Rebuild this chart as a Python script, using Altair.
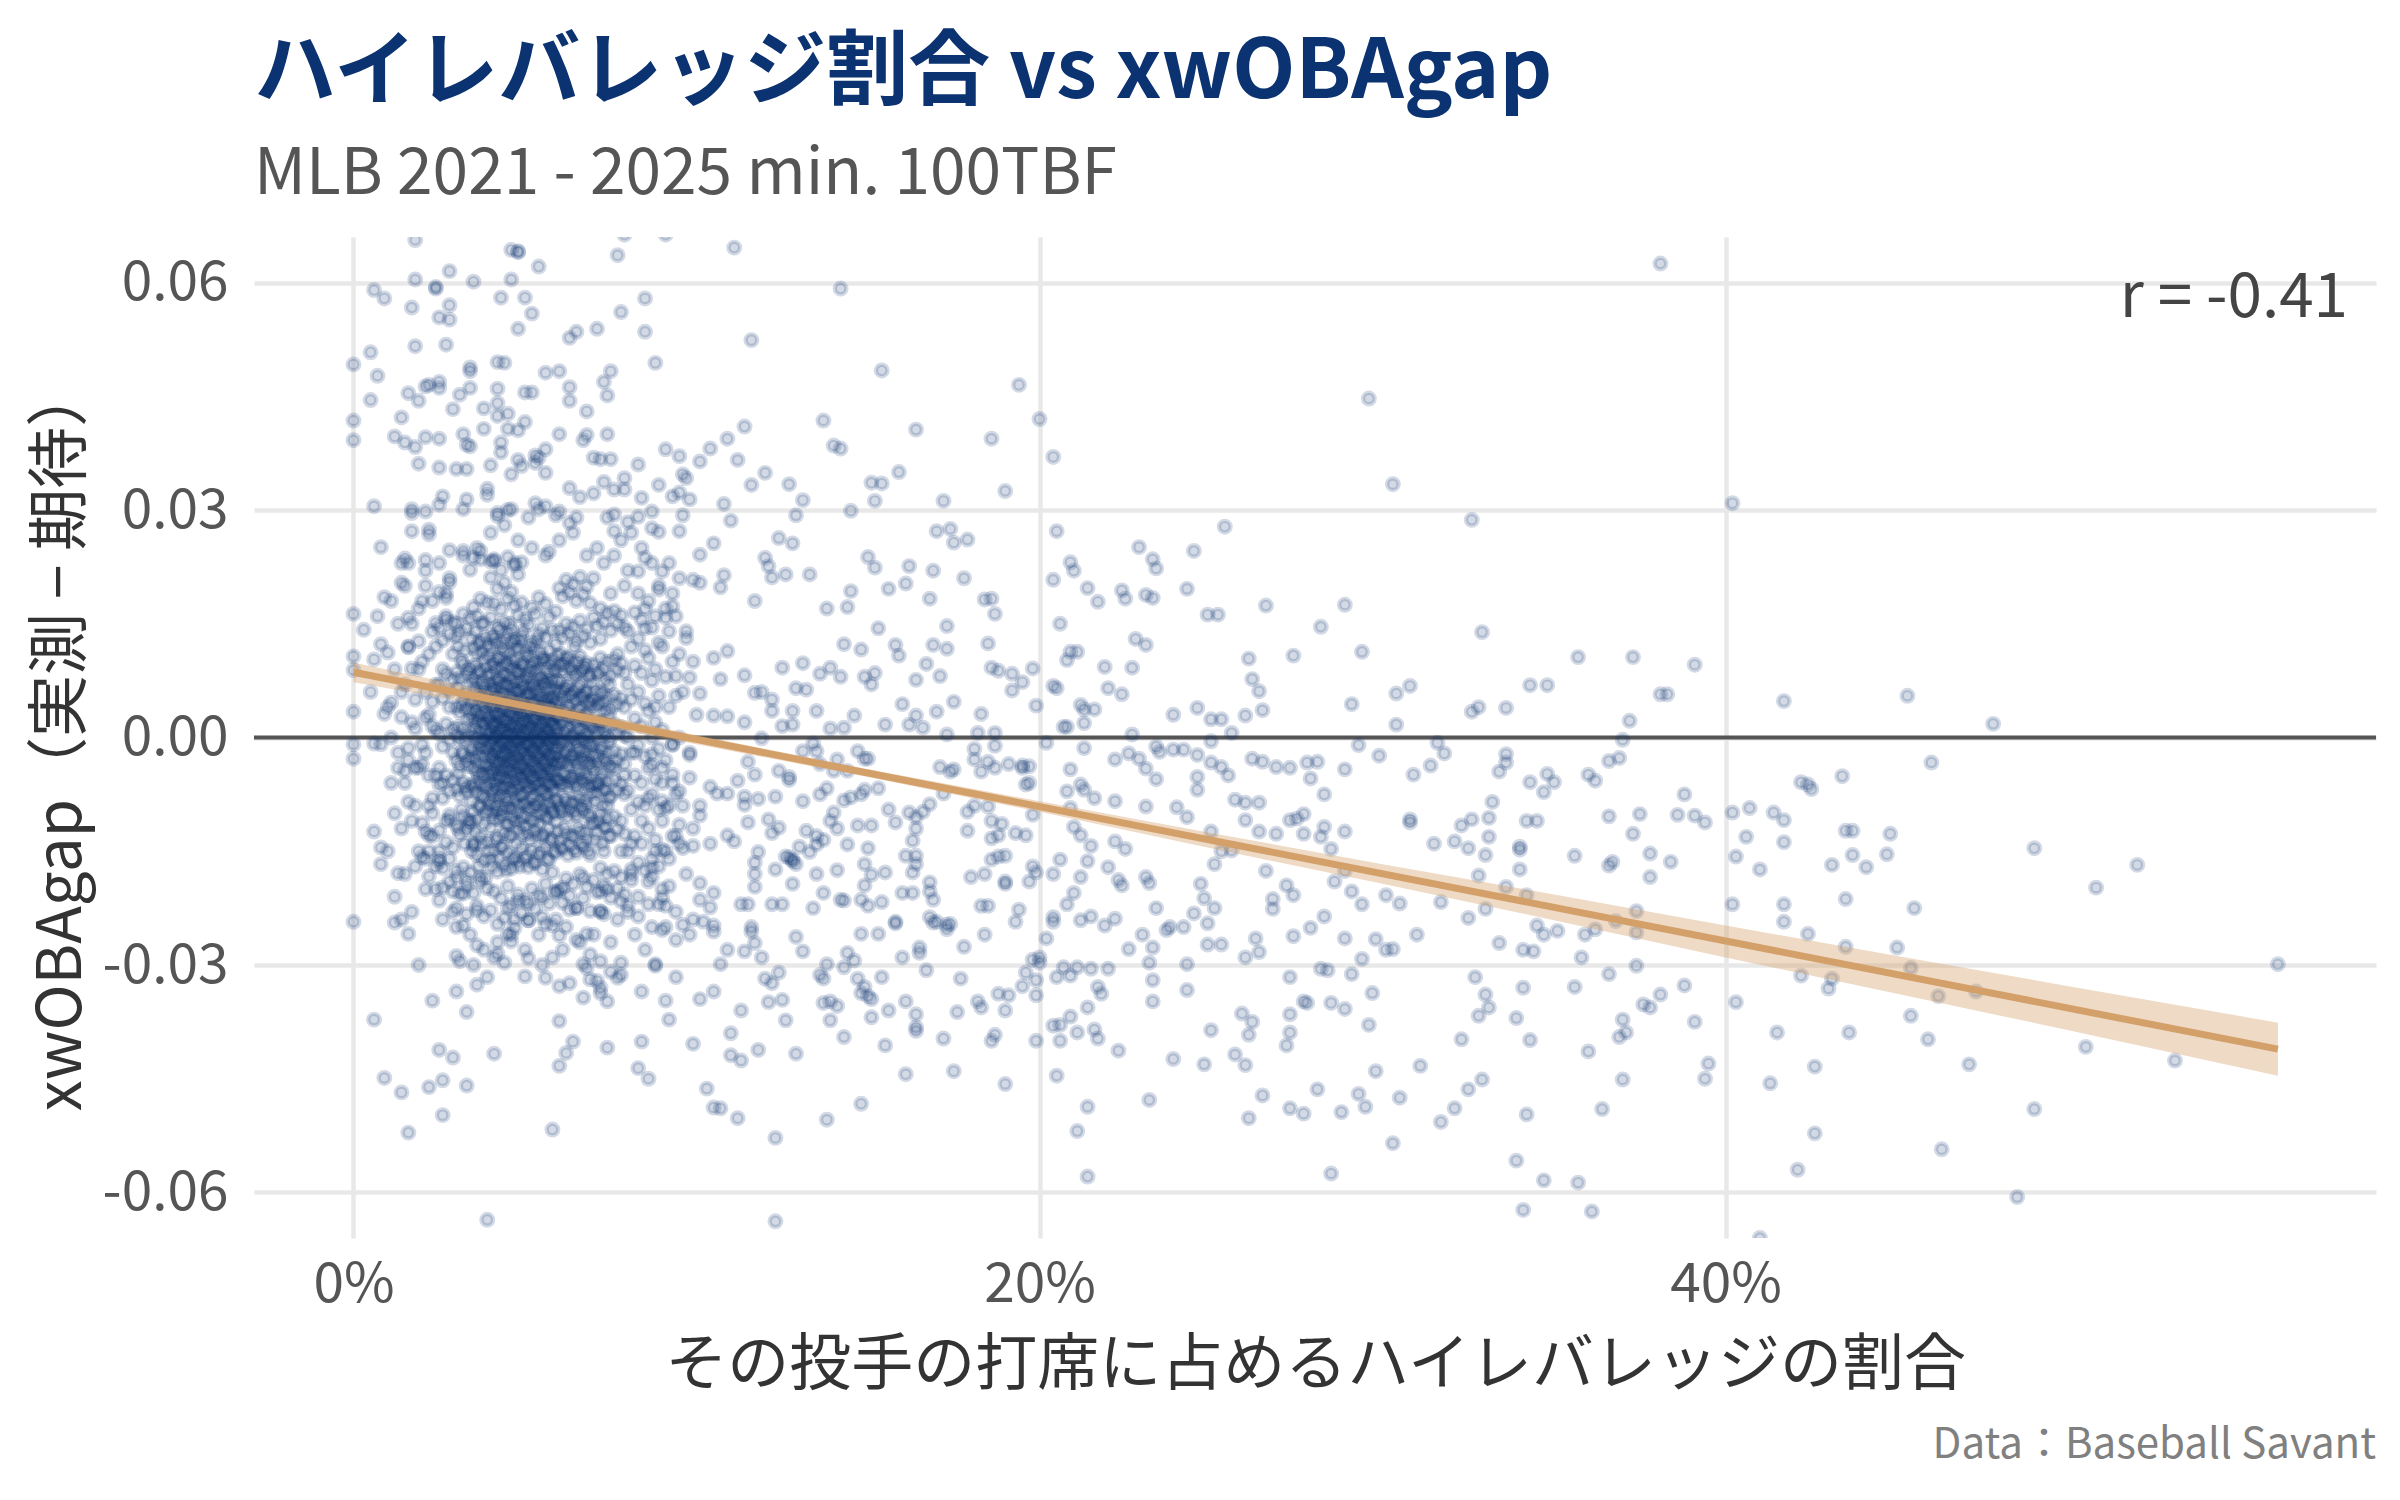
import altair as alt
import pandas as pd

FONT = "Noto Sans CJK JP"
NAVY = "#0B3271"
TAN = "#D4A06A"

TITLE = "ハイレバレッジ割合 vs xwOBAgap"
SUBTITLE = "MLB 2021 - 2025 min. 100TBF"
X_TITLE = "その投手の打席に占めるハイレバレッジの割合"
Y_TITLE = "xwOBAgap（実測 \u2212 期待）"
R_LABEL = "r = -0.41"
CAPTION = "Data：Baseball Savant"

X_TICKS = [0, 0.2, 0.4]
Y_TICKS = [-0.06, -0.03, 0.0, 0.03, 0.06]

# points: (share in 0.1 % units, gap in 0.0001 units)
pts_right = [(381,625),(303,334),(402,309),(326,287),(329,139),(357,106),(373,106),(391,96),(343,69),(348,69),(304,58),(308,68),(381,57),(383,57),(326,34),(328,40),(336,39),(304,17),(372,22),(417,48),(453,55),(478,18),(316,-7),(318,-21),(314,-37),(309,-49),(336,-22),(336,-33),(334,-45),(348,-48),(343,-59),(350,-59),(347,-72),(360,-49),(362,-57),(370,-3),(369,-27),(366,-31),(332,-85),(388,-75),(386,-102),(391,-103),(394,-112),(308,-108),(308,-112),(323,-116),(326,-108),(331,-106),(342,-110),(345,-110),(366,-104),(375,-101),(373,-127),(321,-137),(315,-140),(325,-146),(331,-131),(330,-155),(340,-144),(340,-148),(340,-174),(356,-156),(366,-169),(367,-164),(378,-153),(384,-164),(378,-184),(328,-182),(336,-197),(342,-208),(305,-219),(317,-217),(330,-226),(325,-238),(334,-271),(341,-280),(344,-282),(310,-260),(303,-279),(345,-248),(347,-260),(351,-255),(359,-260),(362,-253),(368,-242),(374,-229),(374,-257),(358,-290),(374,-301),(366,-312),(327,-316),(341,-330),(356,-329),(330,-339),(331,-356),(328,-367),(339,-370),(323,-398),(343,-399),(311,-433),(329,-451),(325,-464),(305,-475),(321,-489),(317,-507),(342,-497),(364,-490),(360,-414),(370,-372),(371,-389),(369,-395),(376,-352),(378,-356),(381,-339),(388,-327),(391,-375),(395,-430),(394,-450),(370,-451),(339,-558),(347,-584),(357,-587),(341,-623),(361,-625),(303,-535),(410,-660),(402,-99),(407,-93),(414,-99),(417,-109),(406,-131),(417,-138),(403,-157),(410,-174),(422,-59),(424,-62),(425,-68),(434,-51),(460,-33),(435,-123),(437,-123),(448,-127),(437,-155),(431,-168),(441,-171),(447,-154),(490,-146),(520,-168),(508,-198),(402,-220),(417,-220),(417,-243),(435,-213),(455,-225),(424,-259),(435,-276),(450,-277),(454,-304),(422,-314),(431,-318),(430,-331),(462,-341),(473,-335),(403,-349),(415,-389),(436,-389),(454,-367),(459,-398),(413,-456),(426,-434),(471,-431),(505,-408),(531,-426),(561,-299),(490,-490),(463,-543),(426,-522),(421,-570),(485,-606)]

pts_mid = [(111,646),(142,592),(116,524),(154,484),(194,465),(200,420),(296,447),(137,418),(114,410),(109,394),(104,381),(101,364),(112,366),(140,385),(142,381),(164,406),(186,394),(204,370),(120,349),(116,333),(127,334),(131,313),(151,336),(154,335),(152,312),(159,350),(172,312),(190,325),(108,308),(110,286),(129,293),(145,299),(105,256),(101,241),(124,263),(128,256),(120,237),(121,226),(122,211),(126,215),(133,215),(108,214),(107,198),(101,204),(117,180),(150,238),(152,224),(162,226),(169,220),(161,203),(156,196),(145,193),(144,172),(138,170),(170,272),(174,275),(175,257),(179,261),(178,210),(168,183),(184,182),(186,183),(187,163),(173,147),(153,144),(185,124),(205,272),(204,208),(209,231),(210,220),(214,197),(217,179),(224,194),(225,183),(229,251),(233,235),(234,223),(231,188),(233,184),(243,196),(245,246),(254,278),(249,162),(252,162),(266,174),(289,175),(282,146),(261,104),(274,108),(294,113),(262,77),(264,61),(265,36),(291,44),(206,150),(228,130),(231,122),(227,92),(219,93),(220,65),(224,57),(205,65),(204,68),(208,102),(209,113),(211,113),(212,43),(213,37),(216,37),(213,19),(207,14),(199,42),(198,91),(195,73),(192,84),(188,88),(186,92),(192,62),(183,31),(175,47),(171,81),(164,76),(167,97),(169,122),(173,117),(158,122),(159,108),(152,85),(149,80),(151,70),(148,116),(143,123),(139,92),(142,80),(136,84),(131,98),(125,92),(132,63),(129,65),(128,35),(135,35),(122,35),(122,50),(119,60),(117,59),(114,82),(109,114),(105,105),(101,58),(107,77),(105,29),(109,28),(114,20),(119,-1),(125,15),(128,17),(139,12),(143,13),(146,29),(155,17),(160,44),(162,17),(164,29),(166,13),(170,34),(173,4),(182,6),(187,6),(187,-11),(181,-15),(185,-32),(195,-37),(197,-60),(202,-7),(208,14),(213,-14),(209,-42),(212,-62),(213,-69),(208,-71),(209,-93),(216,-80),(222,-84),(227,4),(222,-29),(226,-21),(229,-28),(231,-41),(234,-12),(235,-19),(239,-16),(242,-16),(246,-23),(250,-5),(250,-33),(253,-39),(255,-50),(234,-55),(231,-91),(240,-92),(243,-105),(246,-69),(246,-52),(250,24),(260,29),(256,6),(253,24),(239,30),(246,39),(262,-28),(265,-32),(269,-39),(273,-40),(278,-33),(281,-32),(279,-54),(289,-42),(293,-10),(299,-24),(283,-75),(257,-82),(260,-86),(264,-86),(260,-109),(264,-124),(269,-127),(273,-109),(275,-107),(277,-101),(277,-127),(282,-131),(283,-118),(289,-124),(285,-147),(289,-176),(286,-190),(291,-203),(294,-220),(301,-208),(250,-124),(251,-167),(253,-150),(256,-149),(247,-193),(248,-212),(251,-225),(249,-245),(245,-232),(266,-176),(268,-213),(268,-226),(272,-195),(274,-208),(279,-251),(283,-236),(263,-265),(264,-283),(260,-290),(253,-273),(249,-273),(243,-299),(243,-333),(238,-250),(242,-250),(274,-262),(289,-265),(298,-266),(301,-280),(294,-292),(282,-305),(284,-307),(291,-312),(273,-316),(277,-348),(278,-350),(285,-350),(289,-358),(297,-337),(296,-379),(273,-365),(273,-389),(272,-406),(259,-364),(262,-375),(261,-392),(257,-418),(260,-432),(248,-431),(250,-386),(239,-424),(232,-478),(265,-472),(261,-502),(273,-489),(277,-496),(281,-464),(288,-494),(293,-470),(295,-487),(298,-440),(285,-575),(214,-579),(211,-519),(214,-487),(205,-446),(190,-457),(175,-440),(161,-444),(148,-483),(138,-504),(123,-528),(123,-638),(112,-502),(107,-489),(105,-488),(103,-463),(113,-426),(110,-419),(110,-390),(118,-412),(129,-417),(143,-395),(155,-406),(172,-397),(186,-400),(187,-392),(199,-400),(206,-400),(211,-389),(216,-385),(217,-397),(223,-413),(204,-380),(206,-379),(209,-368),(214,-356),(217,-329),(218,-338),(220,-305),(215,-305),(211,-303),(207,-303),(205,-316),(209,-314),(200,-290),(199,-340),(199,-320),(195,-328),(196,-310),(191,-340),(188,-338),(190,-360),(183,-356),(182,-348),(177,-318),(176,-362),(164,-387),(164,-382),(164,-365),(161,-348),(154,-316),(156,-360),(151,-369),(151,-345),(150,-341),(148,-337),(147,-318),(149,-329),(143,-303),(139,-348),(141,-354),(139,-373),(137,-350),(137,-318),(136,-313),(138,-299),(144,-284),(146,-294),(148,-259),(131,-282),(129,-263),(124,-310),(121,-349),(125,-346),(126,-373),(120,-318),(122,-324),(113,-360),(105,-335),(101,-345),(107,-299),(117,-271),(119,-290),(114,-282),(116,-256),(116,-250),(109,-280),(105,-256),(105,-248),(104,-224),(102,-243),(115,-220),(113,-220),(117,-197),(117,-180),(117,-165),(118,-151),(122,-220),(125,-220),(128,-193),(129,-167),(126,-157),(127,-158),(128,-163),(123,-174),(133,-151),(135,-180),(141,-175),(134,-225),(137,-205),(142,-214),(143,-215),(148,-214),(150,-222),(154,-217),(158,-243),(158,-245),(153,-259),(160,-290),(165,-284),(165,-277),(167,-307),(169,-244),(168,-237),(173,-247),(173,-253),(169,-214),(168,-203),(168,-191),(163,-205),(160,-205),(164,-167),(164,-156),(163,-178),(161,-156),(155,-178),(151,-181),(149,-195),(149,-167),(150,-146),(151,-116),(147,-116),(144,-141),(141,-120),(139,-110),(137,-135),(135,-141),(135,-130),(132,-123),(130,-144),(128,-161),(124,-119),(121,-108),(122,-126),(115,-112),(114,-89),(114,-78),(118,-81),(123,-78),(127,-56),(127,-52),(124,-44),(117,-49),(115,-32),(112,-57),(109,-74),(106,-74),(104,-65),(101,-90),(101,-103),(104,-140),(109,-129),(111,-137),(101,-192),(101,-214),(105,-205),(131,-84),(136,-75),(138,-67),(140,-99),(143,-83),(145,-79),(148,-75),(149,-69),(153,-67),(147,-18),(149,-28),(150,-28),(141,-29),(135,-18),(134,-8),(131,-18),(136,-35),(140,-44),(144,-44),(156,-95),(158,-112),(162,-99),(164,-105),(163,-136),(164,-120),(166,-98),(168,-88),(172,-74),(171,-39),(174,-45),(175,-42),(179,-98),(181,-90),(185,-91),(186,-110),(189,-114),(188,-129),(186,-133),(193,-126),(196,-129),(198,-102),(191,-35),(195,-40),(197,-38),(196,-62),(183,-45),(181,-29),(187,-40),(179,-123),(180,-184),(184,-180),(188,-157),(190,-156),(186,-161),(190,-190),(190,-193),(197,-190),(198,-170),(199,-178),(194,-227),(193,-243),(184,-260),(183,-222),(185,-222),(178,-276),(174,-246),(170,-243),(204,-243),(204,-237),(202,-265),(198,-293),(200,-297),(208,-220),(210,-205),(212,-241),(215,-236),(219,-248),(222,-239),(224,-195),(223,-188),(220,-171),(222,-137),(225,-147),(231,-184),(232,-192),(234,-225),(230,-260),(237,-254),(233,-277),(232,-297),(233,-320),(233,-348),(226,-279),(212,-184),(214,-163),(215,-143),(212,-129),(210,-118),(206,-161),(204,-180)]

pts_left_top = [(18,656),(46,643),(48,640),(48,641),(77,636),(79,663),(91,663),(54,621),(28,615),(18,604),(24,594),(24,592),(35,601),(46,604),(6,590),(9,579),(17,567),(28,570),(25,554),(28,551),(43,580),(50,580),(52,559),(48,539),(85,579),(78,561),(85,535),(71,539),(63,527),(65,535),(5,508),(0,492),(18,516),(27,518),(7,477),(88,494),(42,495),(44,494),(34,488),(34,483),(56,481),(60,483),(75,483),(73,469),(74,451),(63,462),(63,444),(68,430),(5,445),(0,418),(0,392),(16,454),(19,444),(21,463),(22,465),(25,469),(25,461),(31,452),(34,461),(29,433),(42,460),(42,441),(38,434),(42,424),(45,427),(50,416),(45,407),(48,405),(38,407),(50,455),(52,455),(14,422),(12,397),(15,389),(18,383),(21,396),(25,394),(19,361),(25,356),(32,400),(33,386),(34,384),(43,389),(43,376),(40,359),(30,354),(33,354),(56,380),(53,372),(54,369),(48,366),(46,347),(49,358),(56,349),(53,362),(60,400),(67,392),(68,399),(74,400),(70,369),(72,367),(75,367),(83,360),(91,380),(95,371),(96,347),(97,342),(89,333),(79,342),(73,337),(76,327),(79,327),(70,322),(84,316),(95,323),(93,318),(98,314),(87,298),(83,291),(80,284),(87,276),(89,271),(95,272),(96,293),(76,294),(76,272),(63,329),(66,317),(60,298),(59,293),(63,283),(53,309),(54,301),(56,305),(42,296),(42,292),(46,301),(39,328),(39,320),(33,314),(32,301),(26,318),(25,307),(17,301),(17,296),(21,298),(6,305),(8,251),(17,272),(22,274),(22,268),(28,247),(32,246),(35,237),(37,246),(40,232),(41,235),(47,230),(34,221),(14,230),(15,236),(21,234),(14,204),(9,185),(21,200),(28,205),(25,192),(27,184),(0,163),(7,160),(16,158),(3,142),(0,107),(0,89),(0,34),(6,103),(10,112),(8,123),(5,60),(11,46),(9,31),(14,27),(17,91),(16,119),(19,127),(24,151),(27,156),(30,133),(23,47),(18,12),(21,26),(93,173),(91,158),(90,219),(85,237),(89,195),(97,131),(99,208),(83,219),(85,144),(94,81),(98,79)]

pts_left_bottom = [(0,-9),(0,-28),(6,-8),(8,-9),(16,-14),(16,-85),(13,-40),(15,-44),(20,-35),(23,-80),(6,-124),(8,-145),(8,-167),(13,-179),(20,-113),(21,-124),(22,-129),(25,-123),(18,-170),(20,-158),(22,-183),(25,-160),(25,-164),(28,-102),(28,-108),(26,-198),(29,-203),(32,-206),(30,-225),(25,-215),(30,-176),(33,-189),(37,-184),(36,-228),(33,-233),(32,-248),(35,-142),(34,-115),(0,-243),(12,-244),(16,-259),(19,-300),(30,-288),(31,-295),(36,-274),(42,-285),(44,-297),(39,-316),(36,-326),(30,-335),(23,-347),(33,-362),(6,-372),(25,-412),(29,-422),(41,-417),(9,-449),(14,-468),(22,-461),(26,-452),(33,-459),(26,-498),(16,-521),(39,-636),(58,-517),(60,-433),(62,-416),(64,-401),(60,-374),(74,-409),(84,-401),(83,-436),(86,-450),(99,-404),(92,-372),(91,-347),(94,-316),(84,-335),(74,-348),(72,-337),(67,-343),(72,-330),(77,-317),(78,-313),(75,-309),(71,-321),(69,-319),(68,-304),(67,-299),(69,-286),(72,-295),(78,-297),(88,-299),(88,-301),(63,-324),(60,-328),(56,-317),(50,-315),(51,-291),(68,-259),(65,-267),(60,-261),(46,-269),(45,-259),(90,-254),(94,-267),(92,-196),(87,-184),(83,-236),(80,-222),(78,-216),(86,-220),(91,-222),(90,-211),(96,-247),(99,-240),(72,-229),(73,-233),(65,-225),(63,-227),(59,-240),(56,-246),(51,-241),(51,-219),(48,-215),(45,-225),(55,-211),(59,-203),(61,-198),(67,-185),(72,-203),(74,-200),(81,-174),(81,-188),(87,-172),(90,-148),(96,-146),(99,-143),(95,-115),(91,-93),(90,-84),(90,-60),(93,-49),(95,-71),(98,-53),(98,-23),(93,-9),(87,-36),(87,-22)]

# fringe of the dense cloud (estimated)
pts_fringe = [(10,-150),(10,40),(11,180),(11,-60),(12,90),(12,-210),(13,-20),(13,150),(14,-120),(14,60),(15,200),(15,-180),(16,-30),(16,120),(17,-230),(18,50),(18,-90),(19,170),(19,-150),(20,-10),(20,100),(21,-200),(21,220),(22,-50),(22,30),(23,-100),(23,140),(24,-170),(24,10),(25,230),(25,-40),(26,90),(26,-240),(27,-110),(27,190),(28,40),(28,-190),(29,110),(29,-20),(29,-230),(12,-100),(14,-240),(16,230),(18,-40),(20,180),(22,-150),(24,120),(26,-60),(28,210),(11,0),
              (70,-260),(70,210),(71,-60),(71,250),(72,-230),(72,130),(73,-150),(73,230),(74,-90),(74,290),(75,-270),(75,190),(76,-40),(76,240),(77,-240),(77,110),(78,-150),(78,260),(79,-50),(79,200),(80,-230),(80,220),(81,-140),(81,270),(82,-260),(82,-20),(83,190),(83,-210),(84,-110),(84,250),(85,-280),(85,170),(86,-190),(86,-80),(87,230),(87,-250),(88,-150),(88,40),(89,-220),(89,200),(90,-200),(90,-40),(91,170),(91,-250),(92,-160),(92,230),(93,-60),(93,190),(94,-230),(94,-130),(95,210),(96,-90),(96,60),(97,-180),(97,140),(98,-20),(98,-260),(99,100),(99,-120),(100,30),
              (30,-250),(32,240),(34,-260),(36,250),(38,-280),(40,270),(42,-270),(44,280),(46,-260),(48,260),(50,-280),(52,250),(54,-260),(56,240),(58,-290),(60,260),(62,-250),(64,270),(66,-270),(68,240),(35,-300),(45,300),(55,-300),(65,290),(41,-290),(51,290),(61,-280),(47,-240),(57,245),(37,235)]

# dense core (estimated): (share in 0.1 % units, [gap values in 0.0001 units])
core_cols = [
    (15, [-60, 70]), (17, [-110, 20, 150]), (19, [-40, 90]), (21, [-160, -20, 60]),
    (22, [110, -90]), (23, [-130, 15, 180]), (24, [-50, 70, -200]),
    (25, [-150, -62, 5, 70, 145]), (26, [-172, -80, -12, 52, 128]),
    (27, [-138, -50, 18, 84, 160]), (28, [-160, -71, -3, 61, 136]),
    (29, [-145, -56, 11, 77, 152]),
    (30, [-185, -115, -68, -30, 4, 40, 86, 150]),
    (31, [-206, -128, -77, -37, -2, 33, 78, 139]),
    (32, [-171, -104, -59, -22, 12, 49, 97, 163]),
    (33, [-196, -121, -72, -33, 1, 37, 82, 144]),
    (34, [-178, -110, -63, -26, 8, 45, 92, 157]),
    (35, [-205, -140, -98, -66, -40, -18, 3, 24, 48, 78, 118, 172]),
    (36, [-222, -155, -108, -73, -45, -22, 0, 21, 44, 72, 110, 160]),
    (37, [-190, -131, -92, -61, -35, -13, 8, 30, 55, 86, 127, 183]),
    (38, [-236, -162, -114, -79, -50, -26, -4, 17, 40, 67, 103, 151]),
    (39, [-199, -137, -96, -64, -38, -16, 5, 27, 51, 82, 122, 178]),
    (40, [-228, -161, -119, -88, -61, -43, -27, -9, 6, 21, 39, 62, 84, 117, 158, 211]),
    (41, [-203, -150, -108, -79, -55, -33, -16, 1, 15, 30, 51, 71, 99, 131, 177, 233]),
    (42, [-246, -177, -131, -97, -70, -49, -31, -12, 3, 19, 34, 55, 78, 105, 146, 196]),
    (43, [-212, -144, -103, -75, -52, -37, -20, -4, 11, 26, 44, 66, 93, 126, 169, 221]),
    (44, [-238, -168, -126, -91, -64, -45, -24, -8, 8, 23, 41, 59, 82, 112, 152, 204]),
    (45, [-196, -152, -114, -84, -59, -39, -22, -6, 9, 28, 47, 69, 96, 137, 183, 238]),
    (46, [-221, -173, -129, -95, -67, -46, -29, -11, 4, 17, 33, 53, 76, 103, 143, 192]),
    (47, [-251, -158, -111, -81, -57, -35, -18, -2, 13, 31, 49, 72, 101, 129, 174, 227]),
    (48, [-207, -164, -122, -89, -62, -41, -26, -7, 7, 24, 40, 61, 86, 118, 161, 215]),
    (49, [-232, -146, -105, -77, -53, -36, -15, 0, 16, 32, 52, 74, 97, 134, 178, 231]),
    (50, [-215, -160, -118, -87, -60, -42, -23, -8, 6, 22, 38, 58, 81, 113, 156]),
    (51, [-241, -171, -127, -93, -66, -47, -28, -10, 5, 20, 37, 57, 79, 108, 149]),
    (52, [-199, -149, -109, -80, -56, -38, -19, -3, 12, 27, 45, 67, 94, 125, 171]),
    (53, [-226, -166, -123, -90, -63, -44, -25, -7, 9, 25, 42, 63, 88, 119, 163]),
    (54, [-208, -155, -113, -83, -58, -40, -21, -5, 10, 29, 48, 70, 98, 136, 185]),
    (55, [-237, -174, -130, -96, -69, -48, -30, -13, 2, 18, 35, 54, 77, 104, 144]),
    (56, [-193, -145, -104, -76, -54, -34, -17, -1, 14, 30, 50, 72, 100, 132, 176]),
    (57, [-219, -162, -120, -86, -61, -42, -24, -6, 8, 23, 41, 60, 85, 115, 159]),
    (58, [-248, -178, -133, -98, -71, -50, -32, -14, 1, 16, 32, 52, 75, 102, 141]),
    (59, [-204, -152, -111, -82, -57, -37, -20, -4, 11, 27, 44, 65, 90, 123, 166]),
    (60, [-201, -136, -91, -56, -27, 0, 28, 59, 96, 141, 197]),
    (61, [-218, -147, -99, -62, -32, -5, 22, 52, 88, 132, 186]),
    (62, [-186, -127, -84, -50, -21, 6, 34, 66, 104, 150, 208]),
    (63, [-209, -141, -95, -59, -30, -3, 25, 55, 92, 137, 191]),
    (64, [-193, -131, -87, -53, -24, 3, 31, 62, 100, 146, 202]),
    (65, [-225, -152, -103, -65, -35, -8, 19, 48, 84, 127, 180]),
    (66, [-180, -124, -81, -47, -18, 9, 37, 69, 107, 154, 212]),
    (67, [-212, -144, -97, -60, -31, -4, 24, 53, 90, 134, 189]),
    (68, [-197, -134, -89, -54, -25, 2, 30, 61, 98, 143, 199]),
    (69, [-229, -155, -105, -66, -36, -9, 18, 46, 82, 125, 177]),
    (70, [-188, -112, -63, -24, 12, 50, 96, 158]),
    (71, [-204, -125, -73, -33, 4, 42, 87, 147]),
    (72, [-172, -101, -54, -16, 20, 58, 105, 170]),
    (73, [-196, -118, -68, -28, 8, 46, 91, 152]),
    (74, [-180, -107, -58, -20, 16, 54, 100, 164]),
    (75, [-211, -130, -77, -37, 0, 38, 82, 141]),
    (76, [-176, -104, -56, -18, 18, 56, 103, 167]),
    (77, [-199, -121, -70, -30, 6, 44, 89, 150]),
    (78, [-184, -110, -61, -22, 14, 52, 98, 161]),
    (79, [-207, -127, -75, -35, 2, 40, 85, 145]),
    (80, [-150, -70, 0, 70, 140]), (81, [-180, -95, -20, 50, 120]),
    (82, [-130, -50, 25, 95, 165]), (83, [-165, -85, -10, 60, 130]),
    (84, [-140, -60, 15, 85, 155]), (85, [-175, -90, -25, 45, 115]),
    (86, [-120, -40, 35, 105, 180]), (87, [-160, -75, 0, 75, 145]),
    (88, [-135, -55, 20, 90, 160]), (89, [-170, -95, -15, 55, 125]),
    (90, [-110, 10, 120]), (91, [-150, -30, 80]), (92, [-90, 40, 140]),
    (93, [-130, -10, 100]), (94, [-75, 55, 160]), (95, [-140, 0, 110]),
]

# second pass over the darkest part of the core (estimated)
core_cols_b = [
    (30.5, [-120, -48, 14, 66, 120]), (31.5, [-95, -20, 42, 101]),
    (32.5, [-140, -66, -5, 58, 115]), (33.5, [-110, -38, 25, 88]),
    (34.5, [-150, -84, -15, 30, 72, 130]),
    (35.5, [-125, -60, -28, 12, 36, 64, 95, 140]),
    (36.5, [-170, -90, -52, -8, 28, 58, 88, 124]),
    (37.5, [-140, -76, -46, -3, 20, 46, 74, 112, 150]),
    (38.5, [-185, -100, -66, -35, -12, 10, 32, 58, 92, 132]),
    (39.5, [-150, -83, -48, -20, 2, 24, 46, 72, 108]),
    (40.5, [-170, -100, -70, -48, -24, -2, 18, 42, 66, 95, 135]),
    (41.5, [-135, -90, -62, -40, -20, 0, 20, 40, 64, 90, 124]),
    (42.5, [-160, -108, -78, -55, -33, -12, 8, 28, 50, 74, 104, 142]),
    (43.5, [-145, -96, -66, -42, -26, -6, 14, 36, 58, 84, 118]),
    (44.5, [-175, -114, -80, -54, -32, -14, 4, 22, 46, 70, 98, 130]),
    (45.5, [-130, -92, -65, -44, -26, -8, 12, 32, 55, 80, 112, 150]),
    (46.5, [-160, -105, -72, -50, -30, -12, 6, 26, 44, 66, 92, 125]),
    (47.5, [-140, -98, -68, -46, -24, -4, 16, 38, 60, 86, 118]),
    (48.5, [-170, -112, -76, -52, -34, -16, 2, 20, 42, 64, 90, 128]),
    (49.5, [-128, -88, -60, -40, -20, 0, 22, 44, 68, 96, 140]),
    (50.5, [-155, -104, -72, -50, -30, -10, 10, 30, 52, 76, 106]),
    (51.5, [-135, -94, -66, -44, -24, -6, 14, 34, 58, 86, 120]),
    (52.5, [-165, -110, -75, -52, -32, -14, 4, 24, 46, 70, 100]),
    (53.5, [-130, -90, -62, -40, -22, -2, 18, 38, 62, 90, 128]),
    (54.5, [-150, -102, -70, -48, -28, -8, 12, 32, 54, 80, 112]),
    (55.5, [-128, -88, -58, -36, -16, 4, 24, 46, 72, 104]),
    (56.5, [-160, -106, -74, -50, -30, -10, 10, 30, 52, 78]),
    (57.5, [-136, -92, -62, -42, -22, 0, 20, 42, 66, 96]),
    (58.5, [-150, -100, -68, -44, -24, -4, 16, 36, 60, 88]),
    (59.5, [-124, -84, -56, -34, -14, 6, 26, 48, 74, 108]),
    (60.5, [-145, -96, -62, -34, -8, 18, 44, 74, 110]),
    (61.5, [-120, -80, -46, -18, 8, 34, 62, 96]),
    (62.5, [-155, -104, -66, -38, -12, 14, 40, 70, 106]),
    (63.5, [-130, -86, -52, -24, 2, 28, 56, 88]),
    (64.5, [-148, -98, -60, -30, -4, 22, 50, 82, 120]),
    (65.5, [-118, -76, -42, -14, 12, 38, 66, 100]),
    (66.5, [-140, -92, -56, -26, 0, 26, 54, 86]),
    (67.5, [-125, -82, -48, -20, 6, 32, 60, 94]),
    (68.5, [-150, -100, -62, -32, -6, 20, 48, 80]),
    (69.5, [-115, -74, -40, -12, 14, 42, 72]),
    (70.5, [-135, -84, -44, -10, 24, 62]), (71.5, [-110, -62, -26, 8, 44, 84]),
    (72.5, [-140, -90, -48, -12, 22, 60]), (73.5, [-118, -70, -32, 2, 36, 76]),
    (74.5, [-130, -80, -40, -6, 30, 70]),
]

# fitted line and its confidence band
line_x = [0.0, 0.561]
line_y = [0.0086, -0.0411]
band_x = [0.0, 0.05, 0.10, 0.15, 0.20, 0.25, 0.30, 0.35, 0.40, 0.45, 0.50, 0.561]
band_lo = [0.0073, 0.0033, -0.0009, -0.0052, -0.0098, -0.0146, -0.0193, -0.0241, -0.0290, -0.0338, -0.0386, -0.0446]
band_hi = [0.0099, 0.0051, 0.0003, -0.0042, -0.0084, -0.0126, -0.0167, -0.0207, -0.0248, -0.0288, -0.0328, -0.0376]

xs, ys = [], []
for grp in (pts_right, pts_mid, pts_left_top, pts_left_bottom, pts_fringe):
    for a, b in grp:
        xs.append(a / 1000)
        ys.append(b / 10000)
for cols in (core_cols, core_cols_b):
    for a, col in cols:
        for b in col:
            xs.append(a / 1000)
            ys.append(b / 10000)
points = pd.DataFrame({"share": xs, "gap": ys})
band = pd.DataFrame({"share": band_x, "lo": band_lo, "hi": band_hi})
fit = pd.DataFrame({"share": line_x, "gap": line_y})
zero = pd.DataFrame({"gap": [0.0]})

W, H = 2122, 1001
xscale = alt.Scale(domain=[-0.0290, 0.5896], nice=False, zero=False)
yscale = alt.Scale(domain=[-0.066, 0.066], nice=False, zero=False)

X_AXIS = alt.Axis(values=X_TICKS, format=".0%", title=X_TITLE, labelPadding=20,
                  titleX=W / 2, titleY=146, titleBaseline="alphabetic", titleAlign="center")
Y_AXIS = alt.Axis(values=Y_TICKS, labelExpr="replace(format(datum.value, '.2f'), '\u2212', '-')",
                  title=Y_TITLE, labelPadding=26, titleX=-193, titleY=H / 2,
                  titleAngle=-90, titleBaseline="middle", titleAlign="center")

zero_rule = alt.Chart(zero).mark_rule(color="#555555", strokeWidth=4).encode(
    y=alt.Y("gap:Q", scale=yscale, axis=Y_AXIS))

dots = alt.Chart(points).mark_circle(
    size=133, fill=NAVY, fillOpacity=0.18, stroke=NAVY, strokeOpacity=0.18,
    strokeWidth=4.4, clip=True
).encode(
    x=alt.X("share:Q", scale=xscale, axis=X_AXIS),
    y=alt.Y("gap:Q", scale=yscale, axis=Y_AXIS),
)

ribbon = alt.Chart(band).mark_area(color=TAN, opacity=0.39).encode(
    x=alt.X("share:Q", scale=xscale, axis=X_AXIS),
    y=alt.Y("lo:Q", scale=yscale, axis=Y_AXIS),
    y2="hi:Q",
)

fit_line = alt.Chart(fit).mark_line(color=TAN, strokeWidth=7).encode(
    x=alt.X("share:Q", scale=xscale, axis=X_AXIS),
    y=alt.Y("gap:Q", scale=yscale, axis=Y_AXIS),
)

r_text = alt.Chart(pd.DataFrame({"t": [R_LABEL]})).mark_text(
    align="right", baseline="alphabetic", fontSize=62, color="#444444", font=FONT
).encode(text="t:N", x=alt.value(2094), y=alt.value(80))

caption = alt.Chart(pd.DataFrame({"t": [CAPTION]})).mark_text(
    align="right", baseline="alphabetic", fontSize=42, color="#808080", font=FONT
).encode(text="t:N", x=alt.value(W), y=alt.value(1221))

chart = alt.layer(zero_rule, dots, ribbon, fit_line, r_text, caption).properties(
    width=W, height=H,
    autosize=alt.AutoSizeParams(type="none"),
    padding={"left": 246, "top": 229, "right": 16, "bottom": 254},
    title=alt.TitleParams(
        text=TITLE, subtitle=SUBTITLE, anchor="start", frame="group",
        font=FONT, fontSize=82, fontWeight="bold", color=NAVY,
        subtitleFont=FONT, subtitleFontSize=64, subtitleColor="#555555",
        subtitleFontWeight="normal", offset=29, subtitlePadding=28,
    ),
).configure(font=FONT, background="white").configure_view(strokeWidth=0).configure_axis(
    grid=True, gridColor="#E8E8E8", gridWidth=4.5, domain=False, ticks=False,
    labelFont=FONT, labelFontSize=55, labelColor="#555555",
    titleFont=FONT, titleFontSize=62, titleFontWeight="normal", titleColor="#333333",
)

chart.save("out.html", embed_options={"renderer": "svg", "actions": False})
